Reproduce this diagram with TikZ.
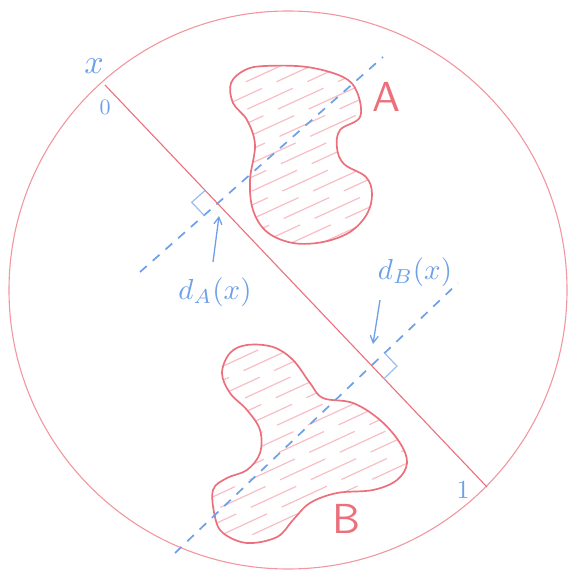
\documentclass[tikz,border=0pt]{standalone}
\usetikzlibrary{calc,arrows.meta}
\definecolor{pk}{RGB}{236,112,124}
\definecolor{pkl}{RGB}{242,150,160}
\definecolor{pkh}{RGB}{247,190,197}
\definecolor{bl}{RGB}{110,160,232}
\tikzset{
  rim/.style={pkl, line width=1.1pt},
  chord/.style={pk, line width=1.1pt},
  blob/.style={pk, line width=1.7pt},
  hatch/.style={pkh, line width=1.2pt, dash pattern=on 50pt off 16pt},
  perp/.style={bl, line width=1.7pt, dash pattern=on 9pt off 8pt},
  rightmark/.style={bl!70, line width=1.2pt},
  pointer/.style={bl, line width=1.3pt, -{Straight Barb[length=7pt,width=8pt]}},
  bluelbl/.style={bl, inner sep=0.5pt},
  redlbl/.style={pk, inner sep=0.5pt, font=\sffamily, scale=4.2}
}
\begin{document}
\begin{tikzpicture}[x=1pt,y=-1pt]
\useasboundingbox (0,0) rectangle (569,575);
% outer circle
\draw[rim] (288,290) circle [radius=279];
% key points
\coordinate (x0) at (105,85);
\coordinate (x1) at (487,487);
\coordinate (a1) at (140,272);
\coordinate (a2) at (383,57);
\coordinate (b1) at (175,553);
\coordinate (b2) at (458,283);
\coordinate (PA) at (intersection of x0--x1 and a1--a2);
\coordinate (PB) at (intersection of x0--x1 and b1--b2);
% blob A
\def\blobA{plot[smooth cycle, tension=0.6] coordinates {(231,83) (245,70) (265,66) (307,67) (343,77) (357,92) (360,117) (340,130) (337,148) (344,164) (366,177) (372,194) (367,214) (350,232) (323,242) (293,243) (267,232) (253,210) (250,180) (255,145) (247,120) (233,103)}}
\begin{scope}
  \clip \blobA;
  \foreach \k in {0,14,...,420} {
    \pgfmathsetmacro\ph{mod(\k*2.3,66)}
    \draw[hatch, dash phase=\ph pt] (180,{\k}) -- (420,{\k-110});
  }
\end{scope}
\draw[blob] \blobA;
% blob B
\def\blobB{plot[smooth cycle, tension=0.6] coordinates {(247,345) (273,347) (293,360) (310,383) (323,398) (353,403) (380,420) (400,443) (407,463) (397,480) (373,490) (337,493) (310,503) (293,520) (277,537) (247,543) (223,533) (215,517) (213,490) (227,478) (247,470) (260,453) (260,430) (247,410) (230,393) (222,373) (230,353)}}
\begin{scope}
  \clip \blobB;
  \foreach \k in {330,344,...,720} {
    \pgfmathsetmacro\ph{mod(\k*2.3,66)}
    \draw[hatch, dash phase=\ph pt] (180,{\k}) -- (440,{\k-120});
  }
\end{scope}
\draw[blob] \blobB;
% chord x0 -- x1
\draw[chord] (x0) -- (x1);
% perpendicular dashed lines
\draw[perp] (a1) -- (a2);
\draw[perp] (b1) -- (b2);
% right-angle marks
\coordinate (ua) at ($(PA)!18pt!(x0)$);
\coordinate (va) at ($(PA)!18pt!(a1)$);
\draw[rightmark] (ua) -- ($(ua)+(va)-(PA)$) -- (va);
\coordinate (ub) at ($(PB)!18pt!(x1)$);
\coordinate (vb) at ($(PB)!18pt!(b2)$);
\draw[rightmark] (ub) -- ($(ub)+(vb)-(PB)$) -- (vb);
% labels
\node[bluelbl, scale=3.4] (lx) at (94,66) {$x$};
\node[bluelbl, scale=2.2] (l0) at (105,107) {$0$};
\node[bluelbl, scale=2.6] (l1) at (463,490) {$1$};
\node[bluelbl, scale=2.9] (dA) at (215,292) {$d_A(x)$};
\node[bluelbl, scale=2.9] (dB) at (415,272) {$d_B(x)$};
\node[redlbl] (A) at (387,97) {A};
\node[redlbl] (B) at (347,519) {B};
% pointers
\coordinate (sA) at (213,262);
\coordinate (tA) at (219,216);
\draw[pointer] (sA) -- (tA);
\coordinate (sB) at (380,300);
\coordinate (tB) at (373,344);
\draw[pointer] (sB) -- (tB);
\end{tikzpicture}
\end{document}
